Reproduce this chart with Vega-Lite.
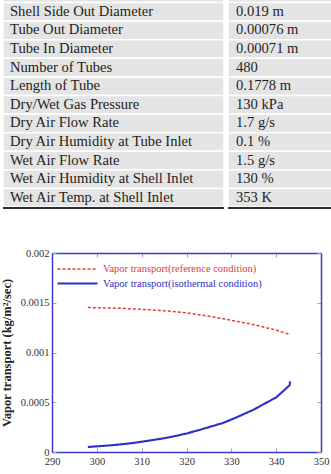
{
  "$schema": "https://vega.github.io/schema/vega-lite/v6.json",
  "padding": 0,
  "background": "white",
  "config": {
    "font": "Liberation Serif",
    "view": {"stroke": null}
  },
  "datasets": {
    "params": [
      {"name": "", "value": ""},
      {"name": "Shell Side Out Diameter", "value": "0.019 m"},
      {"name": "Tube Out Diameter", "value": "0.00076 m"},
      {"name": "Tube In Diameter", "value": "0.00071 m"},
      {"name": "Number of Tubes", "value": "480"},
      {"name": "Length of Tube", "value": "0.1778 m"},
      {"name": "Dry/Wet Gas Pressure", "value": "130 kPa"},
      {"name": "Dry Air Flow Rate", "value": "1.7 g/s"},
      {"name": "Dry Air Humidity at Tube Inlet", "value": "0.1 %"},
      {"name": "Wet Air Flow Rate", "value": "1.5 g/s"},
      {"name": "Wet Air Humidity at Shell Inlet", "value": "130 %"},
      {"name": "Wet Air Temp. at Shell Inlet", "value": "353 K"}
    ],
    "transport": [
      {"series": "Vapor transport(reference condition)", "T": 298, "flux": 0.001452},
      {"series": "Vapor transport(reference condition)", "T": 300, "flux": 0.00145},
      {"series": "Vapor transport(reference condition)", "T": 305, "flux": 0.001445},
      {"series": "Vapor transport(reference condition)", "T": 310, "flux": 0.001434},
      {"series": "Vapor transport(reference condition)", "T": 315, "flux": 0.00142},
      {"series": "Vapor transport(reference condition)", "T": 320, "flux": 0.001398},
      {"series": "Vapor transport(reference condition)", "T": 325, "flux": 0.001365},
      {"series": "Vapor transport(reference condition)", "T": 330, "flux": 0.001324},
      {"series": "Vapor transport(reference condition)", "T": 335, "flux": 0.00128},
      {"series": "Vapor transport(reference condition)", "T": 340, "flux": 0.001225},
      {"series": "Vapor transport(reference condition)", "T": 343, "flux": 0.001181},
      {"series": "Vapor transport(isothermal condition)", "T": 298, "flux": 0.00005},
      {"series": "Vapor transport(isothermal condition)", "T": 300, "flux": 0.000057},
      {"series": "Vapor transport(isothermal condition)", "T": 302, "flux": 0.000063},
      {"series": "Vapor transport(isothermal condition)", "T": 305, "flux": 0.000075},
      {"series": "Vapor transport(isothermal condition)", "T": 308, "flux": 0.00009},
      {"series": "Vapor transport(isothermal condition)", "T": 310, "flux": 0.000103},
      {"series": "Vapor transport(isothermal condition)", "T": 312, "flux": 0.000117},
      {"series": "Vapor transport(isothermal condition)", "T": 315, "flux": 0.000138},
      {"series": "Vapor transport(isothermal condition)", "T": 318, "flux": 0.000165},
      {"series": "Vapor transport(isothermal condition)", "T": 320, "flux": 0.000186},
      {"series": "Vapor transport(isothermal condition)", "T": 322, "flux": 0.00021},
      {"series": "Vapor transport(isothermal condition)", "T": 325, "flux": 0.00025},
      {"series": "Vapor transport(isothermal condition)", "T": 328, "flux": 0.00029},
      {"series": "Vapor transport(isothermal condition)", "T": 330, "flux": 0.000326},
      {"series": "Vapor transport(isothermal condition)", "T": 332, "flux": 0.000365},
      {"series": "Vapor transport(isothermal condition)", "T": 335, "flux": 0.000426},
      {"series": "Vapor transport(isothermal condition)", "T": 338, "flux": 0.0005},
      {"series": "Vapor transport(isothermal condition)", "T": 340, "flux": 0.000549},
      {"series": "Vapor transport(isothermal condition)", "T": 342, "flux": 0.00063},
      {"series": "Vapor transport(isothermal condition)", "T": 343, "flux": 0.000672},
      {"series": "Vapor transport(isothermal condition)", "T": 343.1, "flux": 0.00071}
    ]
  },
  "spacing": 38,
  "resolve": {"legend": {"color": "independent", "strokeDash": "independent", "strokeWidth": "independent"}},
  "vconcat": [
    {
      "spacing": 0,
      "hconcat": [
        {
          "width": 221,
          "height": 208,
          "layer": [
            {
              "data": {"name": "params"},
              "mark": {"type": "rect", "fill": "#e4e4e4", "stroke": "white", "strokeWidth": 1.5, "clip": true},
              "encoding": {
                "y": {"field": "name", "type": "nominal", "sort": null, "axis": null,
                      "scale": {"range": [-16, 207], "paddingInner": 0, "paddingOuter": 0}},
                "x": {"value": 0},
                "x2": {"value": "width"}
              }
            },
            {
              "data": {"name": "params"},
              "mark": {"type": "text", "align": "left", "baseline": "middle", "dx": 7, "fontSize": 14.6, "color": "#1e1e1e", "clip": true},
              "encoding": {
                "y": {"field": "name", "type": "nominal", "sort": null, "axis": null,
                      "scale": {"range": [-16, 207], "paddingInner": 0, "paddingOuter": 0}},
                "x": {"value": 0},
                "text": {"field": "name"}
              }
            },
            {
              "data": {"values": [{"edge": "bottom"}]},
              "mark": {"type": "rule", "color": "#2e2e2e", "strokeWidth": 2.2},
              "encoding": {"y": {"value": "height"}, "x": {"value": 0}, "x2": {"value": "width"}}
            }
          ]
        },
        {
          "width": 110,
          "height": 208,
          "layer": [
            {
              "data": {"name": "params"},
              "mark": {"type": "rect", "fill": "#e4e4e4", "stroke": "white", "strokeWidth": 1.5, "clip": true},
              "encoding": {
                "y": {"field": "name", "type": "nominal", "sort": null, "axis": null,
                      "scale": {"range": [-16, 207], "paddingInner": 0, "paddingOuter": 0}},
                "x": {"value": 0},
                "x2": {"value": "width"}
              }
            },
            {
              "data": {"name": "params"},
              "mark": {"type": "text", "align": "left", "baseline": "middle", "dx": 8, "fontSize": 14.6, "color": "#1e1e1e", "clip": true},
              "encoding": {
                "y": {"field": "name", "type": "nominal", "sort": null, "axis": null,
                      "scale": {"range": [-16, 207], "paddingInner": 0, "paddingOuter": 0}},
                "x": {"value": 0},
                "text": {"field": "value"}
              }
            },
            {
              "data": {"values": [{"edge": "bottom"}]},
              "mark": {"type": "rule", "color": "#2e2e2e", "strokeWidth": 2.2},
              "encoding": {"y": {"value": "height"}, "x": {"value": 0}, "x2": {"value": "width"}}
            }
          ]
        }
      ]
    },
    {
      "width": 318,
      "height": 199,
      "data": {"name": "transport"},
      "layer": [
        {
          "mark": {"type": "line"},
          "encoding": {
            "x": {"field": "T", "type": "quantitative", "scale": {"domain": [290, 350], "range": [49, 318]},
                  "axis": {"orient": "bottom", "values": [290, 300, 310, 320, 330, 340, 350], "format": "d", "title": null,
                           "domain": true, "domainColor": "#3c3cc4", "domainWidth": 1.5, "grid": false,
                           "tickSize": -4, "tickColor": "#a0a0cc", "labelPadding": 8,
                           "labelFontSize": 10.5, "labelColor": "#333333", "labelFlush": false, "labelOverlap": false}},
            "y": {"field": "flux", "type": "quantitative", "scale": {"domain": [0, 0.002]},
                  "axis": {"orient": "left", "offset": -49, "values": [0, 0.0005, 0.001, 0.0015, 0.002], "format": "~g",
                           "title": "Vapor transport (kg/m²/sec)", "titleFontWeight": "bold", "titleFontSize": 12.5,
                           "titleColor": "#222222", "titlePadding": 7,
                           "domain": true, "domainColor": "#3c3cc4", "domainWidth": 1.5, "grid": false,
                           "tickSize": -4, "tickColor": "#a0a0cc",
                           "labelPadding": 7, "labelFontSize": 10.5, "labelColor": "#333333", "labelFlush": false, "labelOverlap": false}},
            "color": {
              "field": "series", "type": "nominal",
              "scale": {"domain": ["Vapor transport(reference condition)", "Vapor transport(isothermal condition)"],
                        "range": ["#e03c3c", "#2f2fc4"]},
              "legend": {
                "orient": "none", "legendX": 68, "legendY": 10, "title": null, "symbolType": "M-4,0H4",
                "symbolSize": 100, "symbolStrokeWidth": 1.6, "labelFontSize": 10.5, "labelOffset": 19,
                "rowPadding": 2, "padding": 0, "labelLimit": 300,
                "encode": {"labels": {"update": {"fill": {"signal": "datum.label === 'Vapor transport(reference condition)' ? '#e03c3c' : '#2f2fc4'"}}}}
              }
            },
            "strokeDash": {
              "field": "series", "type": "nominal",
              "scale": {"domain": ["Vapor transport(reference condition)", "Vapor transport(isothermal condition)"],
                        "range": [[3, 2], [1, 0]]},
              "legend": {
                "orient": "none", "legendX": 68, "legendY": 10, "title": null, "symbolType": "M-4,0H4",
                "symbolSize": 100, "symbolStrokeWidth": 1.6, "labelFontSize": 10.5, "labelOffset": 19,
                "rowPadding": 2, "padding": 0, "labelLimit": 300,
                "encode": {"labels": {"update": {"fill": {"signal": "datum.label === 'Vapor transport(reference condition)' ? '#e03c3c' : '#2f2fc4'"}}}}
              }
            },
            "strokeWidth": {
              "field": "series", "type": "ordinal",
              "scale": {"domain": ["Vapor transport(reference condition)", "Vapor transport(isothermal condition)"],
                        "range": [1.5, 2.1]},
              "legend": null
            }
          }
        },
        {
          "mark": {"type": "point", "opacity": 0},
          "encoding": {
            "x": {"field": "T", "type": "quantitative",
                  "axis": {"orient": "top", "values": [290, 300, 310, 320, 330, 340, 350], "labels": false, "title": null,
                           "domain": true, "domainColor": "#3c3cc4", "domainWidth": 1.5, "grid": false,
                           "tickSize": -4, "tickColor": "#a0a0cc"}},
            "y": {"field": "flux", "type": "quantitative",
                  "axis": {"orient": "right", "values": [0, 0.0005, 0.001, 0.0015, 0.002], "labels": false, "title": null,
                           "domain": true, "domainColor": "#3c3cc4", "domainWidth": 1.5, "grid": false,
                           "tickSize": -4, "tickColor": "#a0a0cc"}}
          }
        }
      ],
      "resolve": {"axis": {"x": "independent", "y": "independent"}}
    }
  ]
}
